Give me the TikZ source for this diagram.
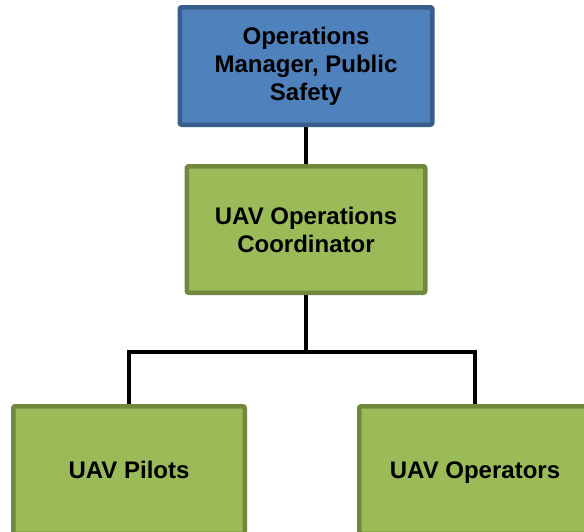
\documentclass[tikz,border=0pt]{standalone}
\usepackage{fontspec}
\setmainfont{Liberation Sans}
\definecolor{BlueFill}{HTML}{4F81BD}
\definecolor{BlueLine}{HTML}{385D8A}
\definecolor{GreenFill}{HTML}{9BBB59}
\definecolor{GreenLine}{HTML}{71893F}
\tikzset{
  orgbox/.style={draw, line width=4.5, rounded corners=2, align=center,
    font=\fontsize{24}{28}\selectfont\bfseries, inner sep=0},
  bluebox/.style={orgbox, fill=BlueFill, draw=BlueLine},
  greenbox/.style={orgbox, fill=GreenFill, draw=GreenLine},
  leafbox/.style={greenbox, text height=17, text depth=0,
    minimum width=231.5, minimum height=127.5},
  link/.style={line width=3.2, color=black}
}
\begin{document}
\begin{tikzpicture}[x=1pt, y=-1pt]

 \useasboundingbox (0,0) rectangle (584,531);

 %%%%%%%%%% Boxes %%%%%%%%%%
 \node[bluebox, minimum width=252.5, minimum height=117.5] (ops) at (306,66)
   {Operations\\Manager, Public\\Safety};
 \node[greenbox, minimum width=238.5, minimum height=126.5] (coord) at (306,229.5)
   {UAV Operations\\Coordinator};
 \node[leafbox] (pilots) at (129,470) {UAV Pilots};
 \node[leafbox] (operators) at (475,470) {UAV Operators};

 %%%%%%%%%% Links %%%%%%%%%%
 \coordinate (bus) at (306,352);
 \draw[link] (ops.south) -- (coord.north);
 \draw[link] (coord.south) -- (bus);
 \draw[link] (bus) -| (pilots.north);
 \draw[link] (bus) -| (operators.north);

\end{tikzpicture}
\end{document}
